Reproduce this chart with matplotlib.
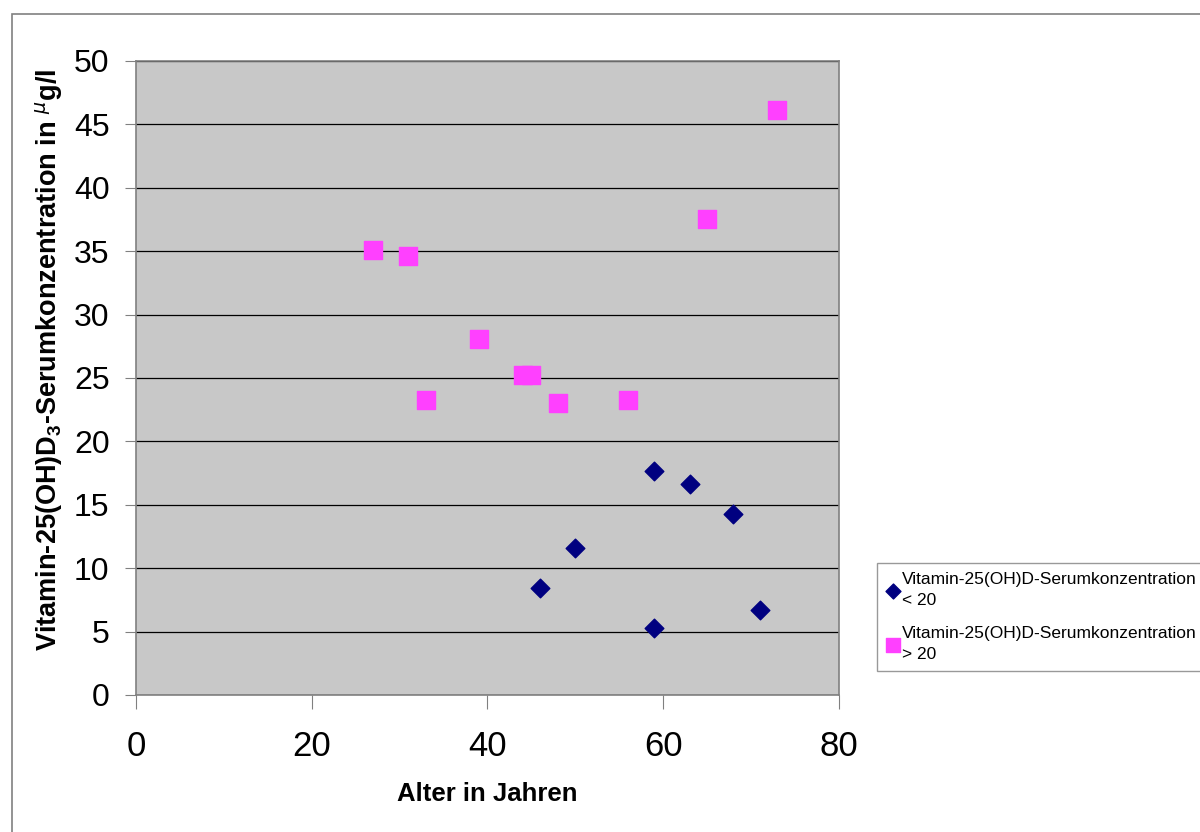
import matplotlib
matplotlib.use('Agg')
import matplotlib.pyplot as plt
from matplotlib.patches import Rectangle

# age (years) and vitamin D serum concentration (ug/l)
low_age = [46, 50, 59, 63, 68, 59, 71]
low_conc = [8.4, 11.6, 17.7, 16.6, 14.3, 5.3, 6.7]
high_age = [27, 31, 33, 39, 44, 45, 48, 56, 65, 73]
high_conc = [35.1, 34.6, 23.3, 28.1, 25.2, 25.2, 23.0, 23.3, 37.5, 46.1]

low_label = 'Vitamin-25(OH)D-Serumkonzentration\n< 20'
high_label = 'Vitamin-25(OH)D-Serumkonzentration\n> 20'
x_ticks = [0, 20, 40, 60, 80]
y_ticks = [0, 5, 10, 15, 20, 25, 30, 35, 40, 45, 50]

plt.rcParams['font.family'] = ['Liberation Sans', 'DejaVu Sans']
plt.rcParams['mathtext.fontset'] = 'custom'
plt.rcParams['mathtext.rm'] = 'Liberation Sans'
plt.rcParams['mathtext.bf'] = 'Liberation Sans:bold'

fig = plt.figure(figsize=(12, 8.32), dpi=100)
ax = fig.add_axes([0.1133, 0.1647, 0.5858, 0.762])

# outer chart frame (runs off the right and bottom edge)
fig.patches.append(Rectangle((0.01, -0.5), 1.5, 1.483, transform=fig.transFigure,
                             fill=False, edgecolor='#808080', linewidth=1.2))

ax.set_facecolor('#c8c8c8')
for sp in ax.spines.values():
    sp.set_color('#808080')
    sp.set_linewidth(1.2)

ax.set_xlim(0, 80)
ax.set_ylim(0, 50)
ax.set_xticks(x_ticks)
ax.set_yticks(y_ticks)
ax.set_yticklabels([str(v) for v in y_ticks], fontsize=23)
ax.set_xticklabels([str(v) for v in x_ticks], fontsize=25)
ax.tick_params(axis='y', length=8, color='#808080', pad=11)
ax.tick_params(axis='x', length=10, color='#808080', pad=15)
ax.grid(axis='y', color='black', linewidth=0.9)
ax.set_axisbelow(True)

ax.scatter(low_age, low_conc, marker='D', s=90, color='#000080', label=low_label, zorder=3)
ax.scatter(high_age, high_conc, marker='s', s=170, color='#ff40ff', label=high_label, zorder=3)

ax.set_xlabel('Alter in Jahren', fontsize=18.5, fontweight='bold', labelpad=14)
ax.set_ylabel(r'Vitamin-25(OH)D$_{\mathbf{3}}$-Serumkonzentration in $^{\mu}$g/l',
              fontsize=19.5, fontweight='bold')
ax.yaxis.set_label_coords(-0.101, 0.528)

leg = fig.legend(loc='upper left', bbox_to_anchor=(0.731, 0.3233), fontsize=12.5,
                 frameon=True, fancybox=False, edgecolor='#808080', handletextpad=0.15,
                 handlelength=0.8, labelspacing=1.0, borderpad=0.5, borderaxespad=0,
                 markerscale=0.8)
leg.get_frame().set_linewidth(1.0)
for t in leg.get_texts():
    t.set_linespacing(1.55)

fig.savefig('out.png', dpi=100)
